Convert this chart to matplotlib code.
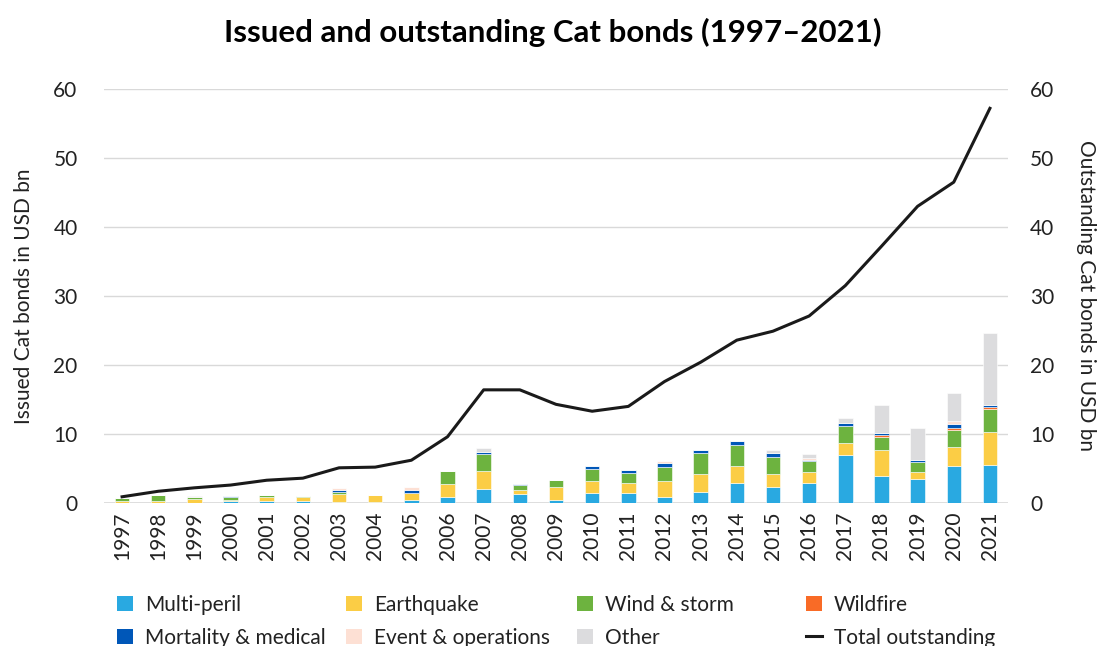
import numpy as np
import matplotlib
matplotlib.use("Agg")
from matplotlib import pyplot as plt
from matplotlib.patches import Patch
from matplotlib.lines import Line2D

plt.rcParams['font.family'] = ['Lato', 'DejaVu Sans']

years = [str(y) for y in range(1997, 2022)]

multi_peril = [0.0, 0.0, 0.0, 0.25, 0.3, 0.35, 0.2, 0.15, 0.5, 0.8, 2.1, 1.25, 0.5, 1.4, 1.5, 0.9, 1.55,
               2.85, 2.3, 2.95, 7.0, 3.95, 3.5, 5.4, 5.55]
earthquake = [0.25, 0.33, 0.55, 0.25, 0.5, 0.5, 1.1, 1.05, 0.95, 2.0, 2.55, 0.6, 1.8, 1.8, 1.45, 2.3, 2.7,
              2.55, 1.95, 1.6, 1.75, 3.7, 1.0, 2.75, 4.8]
wind_storm = [0.45, 0.8, 0.25, 0.35, 0.4, 0.2, 0.3, 0.0, 0.0, 1.9, 2.4, 0.75, 1.05, 1.7, 1.45, 2.0, 3.05,
              3.05, 2.45, 1.5, 2.45, 1.95, 1.5, 2.5, 3.3]
wildfire = [0, 0, 0, 0, 0, 0, 0, 0, 0, 0, 0, 0, 0, 0, 0, 0, 0,
            0, 0, 0, 0, 0.3, 0, 0.25, 0.2]
mortality = [0.0, 0.1, 0.0, 0.2, 0.0, 0.0, 0.35, 0.0, 0.4, 0.0, 0.4, 0.15, 0.0, 0.4, 0.4, 0.6, 0.35,
             0.5, 0.6, 0.15, 0.45, 0.25, 0.25, 0.5, 0.3]
event_ops = [0, 0, 0, 0, 0, 0, 0.25, 0, 0.4, 0, 0, 0, 0, 0, 0, 0.3, 0,
             0, 0, 0.25, 0, 0, 0, 0.5, 0]
other = [0, 0, 0.15, 0, 0, 0, 0, 0, 0, 0, 0.5, 0, 0, 0, 0, 0, 0,
         0, 0.4, 0.6, 0.65, 4.1, 4.65, 4.1, 10.5]
total_outstanding = [0.9, 1.7, 2.2, 2.6, 3.3, 3.6, 5.1, 5.2, 6.2, 9.6, 16.4, 16.4, 14.3, 13.3, 14.0,
                     17.6, 20.4, 23.6, 24.9, 27.1, 31.5, 37.2, 43.0, 46.5, 57.2]

series = [
    ('Multi-peril', multi_peril, '#29a9e1'),
    ('Earthquake', earthquake, '#fbcd45'),
    ('Wind & storm', wind_storm, '#6db33f'),
    ('Wildfire', wildfire, '#f96b26'),
    ('Mortality & medical', mortality, '#0057b8'),
    ('Event & operations', event_ops, '#fde0d4'),
    ('Other', other, '#dcdcde'),
]
txt = '#222222'

fig = plt.figure(figsize=(11.05, 6.46), dpi=100)
ax = fig.add_axes([104 / 1105, 1 - 503 / 646, 904 / 1105, 414 / 646])
x = np.arange(len(years))

bottom = np.zeros(len(years))
for name, vals, col in series:
    vals = np.array(vals, dtype=float)
    ax.bar(x, vals, 0.4, bottom=bottom, color=col, edgecolor='white', linewidth=0.4, zorder=3)
    bottom += vals

ax2 = ax.twinx()
ax2.plot(x, total_outstanding, color='#1a1a1a', lw=2.2, zorder=4)

for a in (ax, ax2):
    a.set_ylim(0, 60)
    a.set_yticks(range(0, 61, 10))
    for s in a.spines.values():
        s.set_visible(False)
ax.tick_params(axis='y', length=0, labelsize=15, pad=19, labelcolor=txt)
ax2.tick_params(axis='y', length=0, labelsize=15, pad=16, labelcolor=txt)
ax.set_xlim(-0.5, 24.5)
ax.yaxis.grid(True, color='#d9d9d9', lw=1, zorder=0)
ax.set_axisbelow(True)
ax.axhline(0, color='#d9d9d9', lw=1.2, zorder=2)

ax.set_xticks(x)
ax.set_xticklabels(years, rotation=90, fontsize=15, color=txt)
ax.tick_params(axis='x', length=0, pad=6)

ax.set_ylabel('Issued Cat bonds in USD bn', fontsize=15, color=txt, labelpad=14)
ax2.set_ylabel('Outstanding Cat bonds in USD bn', fontsize=15, color=txt, rotation=270, labelpad=30)

fig.suptitle('Issued and outstanding Cat bonds (1997\u20132021)', fontsize=22.5, fontweight='bold',
             y=0.972, x=0.5)

# legend laid out as 4 fixed columns, 2 rows
handles = [Patch(facecolor=c, label=n) for n, v, c in series]
handles.append(Line2D([], [], color='#1a1a1a', lw=2.2, label='Total outstanding'))
col_x = [117, 346, 577, 806]
for i, cx in enumerate(col_x):
    leg = fig.legend(handles=[handles[i], handles[i + 4]], loc='upper left',
                     bbox_to_anchor=(cx / 1105, 1 - 595 / 646), frameon=False, fontsize=15,
                     handlelength=0.75, handleheight=0.75, handletextpad=0.6, labelspacing=0.6,
                     borderpad=0, borderaxespad=0)
    for t in leg.get_texts():
        t.set_color(txt)

plt.savefig('out.png', dpi=100)
